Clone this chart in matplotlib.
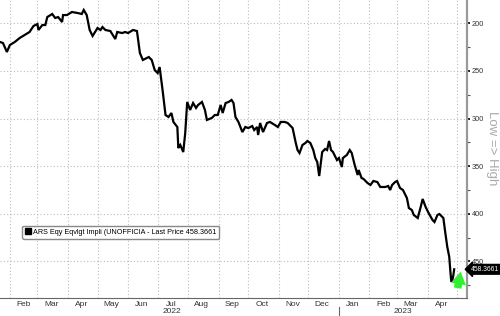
import matplotlib
matplotlib.use("Agg")
import matplotlib.pyplot as plt
import matplotlib.dates as mdates
from matplotlib.lines import Line2D
from matplotlib.ticker import MultipleLocator, NullFormatter
import pandas as pd

plt.rcParams["font.family"] = ["Liberation Sans", "DejaVu Sans"]

dates = [
    "2022-01-22", "2022-01-25", "2022-01-29", "2022-02-01", "2022-02-06", "2022-02-11",
    "2022-02-16", "2022-02-21", "2022-02-25", "2022-03-01", "2022-03-02", "2022-03-06",
    "2022-03-09", "2022-03-11", "2022-03-16", "2022-03-19", "2022-03-22", "2022-03-26",
    "2022-03-27", "2022-03-31", "2022-04-05", "2022-04-11", "2022-04-15", "2022-04-17",
    "2022-04-20", "2022-04-23", "2022-04-26", "2022-05-01", "2022-05-04", "2022-05-06",
    "2022-05-09", "2022-05-14", "2022-05-19", "2022-05-21", "2022-05-26", "2022-05-29",
    "2022-06-01", "2022-06-06", "2022-06-10", "2022-06-13", "2022-06-16", "2022-06-20",
    "2022-06-22", "2022-06-25", "2022-06-28", "2022-07-01", "2022-07-03", "2022-07-06",
    "2022-07-09", "2022-07-12", "2022-07-15", "2022-07-17", "2022-07-21", "2022-07-22",
    "2022-07-24", "2022-07-27", "2022-07-29", "2022-07-31", "2022-08-03", "2022-08-06",
    "2022-08-09", "2022-08-11", "2022-08-15", "2022-08-18", "2022-08-20", "2022-08-25",
    "2022-08-28", "2022-08-31", "2022-09-03", "2022-09-05", "2022-09-08", "2022-09-11",
    "2022-09-14", "2022-09-16", "2022-09-18", "2022-09-21", "2022-09-25", "2022-09-28",
    "2022-10-01", "2022-10-05", "2022-10-07", "2022-10-10", "2022-10-11", "2022-10-13",
    "2022-10-16", "2022-10-20", "2022-10-23", "2022-10-28", "2022-10-31", "2022-11-03",
    "2022-11-07", "2022-11-10", "2022-11-15", "2022-11-18", "2022-11-20", "2022-11-22",
    "2022-11-25", "2022-11-28", "2022-11-30", "2022-12-03", "2022-12-06", "2022-12-08",
    "2022-12-10", "2022-12-12", "2022-12-15", "2022-12-18", "2022-12-20", "2022-12-22",
    "2022-12-24", "2022-12-26", "2022-12-30", "2023-01-01", "2023-01-04", "2023-01-05",
    "2023-01-09", "2023-01-12", "2023-01-14", "2023-01-17", "2023-01-20", "2023-01-21",
    "2023-01-24", "2023-01-26", "2023-01-30", "2023-02-02", "2023-02-05", "2023-02-09",
    "2023-02-12", "2023-02-17", "2023-02-20", "2023-02-22", "2023-02-24", "2023-02-27",
    "2023-03-01", "2023-03-04", "2023-03-07", "2023-03-11", "2023-03-13", "2023-03-16",
    "2023-03-18", "2023-03-22", "2023-03-25", "2023-03-27", "2023-03-30", "2023-04-02",
    "2023-04-06", "2023-04-08", "2023-04-11", "2023-04-13", "2023-04-17", "2023-04-19",
    "2023-04-21", "2023-04-23", "2023-04-24", "2023-04-25", "2023-04-26", "2023-04-27",
    "2023-04-28",
]

prices = [
    219.6, 220.7, 230.1, 222.8, 219.6, 215.4,
    212.3, 209.1, 202.8, 200.7, 207.0, 201.8,
    201.8, 193.4, 190.2, 194.4, 193.4, 198.6,
    191.3, 191.3, 188.1, 189.2, 190.2, 186.0,
    191.3, 207.0, 213.3, 204.9, 207.0, 203.9,
    207.0, 208.1, 216.5, 209.1, 210.2, 209.1,
    210.2, 207.0, 208.1, 231.2, 238.5, 236.4,
    235.4, 238.5, 249.0, 252.2, 245.9, 270.0,
    296.3, 298.4, 294.2, 303.6, 308.9, 331.0,
    327.8, 335.2, 315.2, 282.6, 291.0, 283.7,
    288.9, 285.8, 282.6, 291.0, 301.5, 299.4,
    296.3, 296.3, 285.8, 294.2, 283.7, 282.6,
    280.5, 283.7, 298.4, 303.6, 314.2, 308.9,
    310.0, 307.9, 312.1, 308.9, 317.3, 304.7,
    314.2, 304.7, 303.6, 306.8, 308.9, 303.6,
    303.6, 304.7, 310.0, 324.7, 333.1, 336.2,
    327.8, 325.7, 323.6, 325.7, 333.1, 341.5,
    345.7, 360.4, 335.2, 332.0, 333.1, 323.6,
    333.1, 335.2, 343.6, 341.5, 350.9, 341.5,
    338.3, 333.1, 336.2, 348.8, 359.3, 354.1,
    362.5, 363.5, 367.7, 369.8, 365.6, 366.7,
    371.9, 371.9, 370.9, 375.1, 369.8, 366.7,
    365.6, 373.0, 375.1, 383.5, 394.0, 396.1,
    401.3, 404.5, 392.9, 384.5, 392.9, 399.2,
    406.6, 408.7, 401.3, 400.3, 404.5, 420.2,
    434.9, 445.4, 459.1, 470.6, 470.6, 465.4,
    458.3661,
]

series_label = "ARS Eqy Eqvlgt Impli (UNOFFICIA - Last Price 458.3661"
last_price_text = "458.3661"
y_ticks = [200, 250, 300, 350, 400, 450]
axis_title = "Low => High"

x = pd.to_datetime(dates)

fig = plt.figure(figsize=(5.0, 3.16), dpi=100)
ax = fig.add_axes([0.0, 0.057, 0.934, 0.943])

ax.plot(x, prices, color="black", lw=1.6, solid_joinstyle="miter")

ax.set_xlim(pd.Timestamp("2022-01-22"), pd.Timestamp("2023-05-11"))
ax.set_ylim(488.5, 175.5)

# y axis on right
ax.yaxis.tick_right()
ax.set_yticks(y_ticks)
ax.yaxis.set_minor_locator(MultipleLocator(25))
ax.tick_params(axis="y", which="major", length=2.5, width=1.2, color="black",
               labelsize=5.3, labelcolor="#333333", pad=1)
ax.tick_params(axis="y", which="minor", length=1.8, width=0.8, color="#555555")

# x axis: gridlines at month starts, labels mid-month
ax.xaxis.set_major_locator(mdates.MonthLocator())
ax.xaxis.set_major_formatter(NullFormatter())
ax.xaxis.set_minor_locator(mdates.MonthLocator(bymonthday=15))
ax.xaxis.set_minor_formatter(mdates.DateFormatter("%b"))
ax.tick_params(axis="x", which="both", length=0, labelsize=6,
               labelcolor="#333333", pad=2)

ax.grid(True, which="major", color="#bbbbbb", lw=0.8, linestyle=(0, (1, 2)))

for s in ["left", "top"]:
    ax.spines[s].set_visible(False)
ax.spines["right"].set_color("#999999")
ax.spines["right"].set_linewidth(1.6)
ax.spines["bottom"].set_color("#666666")
ax.spines["bottom"].set_linewidth(0.8)

# year labels and separator
trans = ax.get_xaxis_transform()
ax.text(pd.Timestamp("2022-07-15"), -0.035, "2022", transform=trans, ha="center",
        va="top", fontsize=6, color="#333333", clip_on=False)
ax.text(pd.Timestamp("2023-03-07"), -0.035, "2023", transform=trans, ha="center",
        va="top", fontsize=6, color="#333333", clip_on=False)
ax.plot([pd.Timestamp("2023-01-01")] * 2, [-0.03, -0.065], transform=trans,
        color="#666666", lw=0.8, clip_on=False)

# legend
handle = Line2D([], [], color="black", marker="s", markersize=4, linestyle="none")
leg = ax.legend([handle], [series_label], loc="center left",
                bbox_to_anchor=(0.04, 0.22), fontsize=5.2, frameon=True,
                handlelength=0.8, handletextpad=0.3, borderpad=0.4,
                fancybox=True, framealpha=1.0)
leg.get_frame().set_edgecolor("#888888")
leg.get_frame().set_linewidth(1.0)

# last price tag
ax.annotate(last_price_text, xy=(1.0, prices[-1]), xycoords=("axes fraction", "data"),
            xytext=(2.5, 0), textcoords="offset points", ha="left", va="center",
            fontsize=4.9, color="white", annotation_clip=False,
            bbox=dict(boxstyle="larrow,pad=0.2", fc="black", ec="black"))

# green trend arrow
ax.annotate("", xy=(pd.Timestamp("2023-05-05"), 458.0),
            xytext=(pd.Timestamp("2023-05-01"), 481.0),
            arrowprops=dict(arrowstyle="simple,head_width=1.1,head_length=0.9,tail_width=0.55",
                            color="#33ee33", lw=0))

fig.text(0.983, 0.53, axis_title, rotation=270, ha="center", va="center",
         fontsize=9.5, color="#aaaaaa")

fig.savefig("out.png", dpi=100)
